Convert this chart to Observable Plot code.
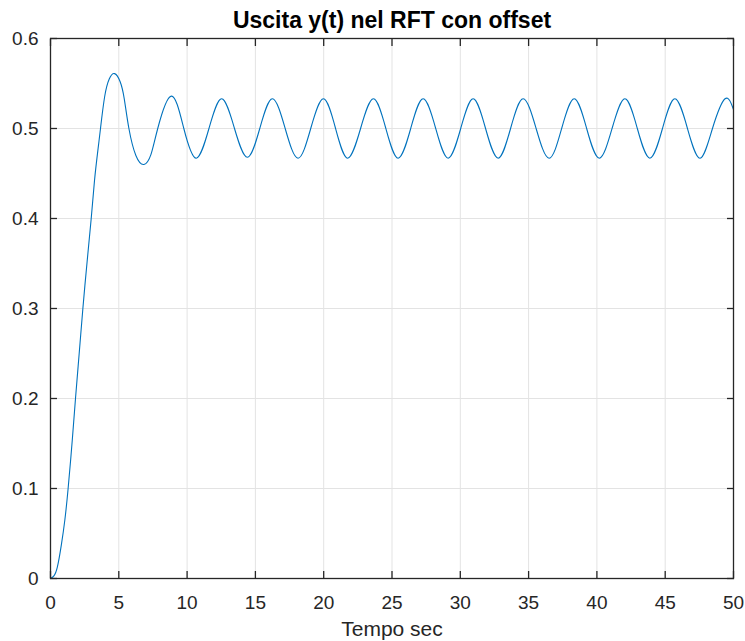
<!DOCTYPE html>
<html>
<head>
<meta charset="utf-8">
<script src="https://cdn.jsdelivr.net/npm/d3@7"></script>
<script src="https://cdn.jsdelivr.net/npm/@observablehq/plot@0.6"></script>
<style>
  body { margin: 0; background: #fff; }
  svg { font-family: "Liberation Sans", Arial, sans-serif; }
</style>
</head>
<body>
<div id="chart"></div>
<script>
const title = "Uscita y(t) nel RFT con offset";
const xLabel = "Tempo sec";
const xTicks = [0, 5, 10, 15, 20, 25, 30, 35, 40, 45, 50];
const yTicks = [0, 0.1, 0.2, 0.3, 0.4, 0.5, 0.6];

const tValues = [0, 0.25, 0.5, 0.8, 1.05, 1.29, 1.59, 1.83, 2.1, 2.37, 2.68, 2.98, 3.22, 3.47, 3.66, 3.96, 4.3, 4.69, 5.1, 5.4, 5.74, 6.25, 6.84, 7.35, 7.85,
  8.84, 9.76, 10.67, 11.6, 12.53, 13.47, 14.41, 15.32, 16.24, 17.18, 18.12, 19.05, 19.98, 20.87, 21.76, 22.7, 23.64, 24.55, 25.45, 26.37, 27.28,
  28.2, 29.11, 30.03, 30.94, 31.85, 32.77, 33.68, 34.6, 35.55, 36.5, 37.42, 38.34, 39.25, 40.17, 41.11, 42.05, 42.96, 43.88, 44.8, 45.71,
  46.63, 47.55, 48.46, 49.38, 50];
const yValues = [0, 0.003, 0.0126, 0.038, 0.065, 0.1, 0.153, 0.2, 0.25, 0.3, 0.352, 0.4, 0.442, 0.476, 0.5, 0.535, 0.555, 0.561, 0.552, 0.533, 0.5, 0.47, 0.46, 0.471, 0.5,
  0.536, 0.5, 0.467, 0.5, 0.533, 0.5, 0.468, 0.5, 0.533, 0.5, 0.467, 0.5, 0.533, 0.5, 0.467, 0.5, 0.533, 0.5, 0.467, 0.5, 0.533,
  0.5, 0.467, 0.5, 0.533, 0.5, 0.467, 0.5, 0.533, 0.5, 0.467, 0.5, 0.533, 0.5, 0.467, 0.5, 0.533, 0.5, 0.467, 0.5, 0.533,
  0.5, 0.467, 0.5, 0.533, 0.521];

const data = tValues.map((t, i) => ({t, y: yValues[i]}));

const axisColor = "#262626";
const gridColor = "#e3e3e3";

const chart = Plot.plot({
  width: 745,
  height: 641,
  marginLeft: 50,
  marginRight: 12,
  marginTop: 38,
  marginBottom: 63,
  style: {fontFamily: "'Liberation Sans', Arial, sans-serif", background: "#fff"},
  x: {domain: [0, 50], label: null},
  y: {domain: [0, 0.6], label: null},
  marks: [
    Plot.gridX(xTicks.slice(1, -1), {stroke: gridColor, strokeOpacity: 1, strokeWidth: 1}),
    Plot.gridY(yTicks.slice(1, -1), {stroke: gridColor, strokeOpacity: 1, strokeWidth: 1}),
    Plot.line(data, {x: "t", y: "y", stroke: "#0072BD", strokeWidth: 1.1, curve: "natural"}),
    Plot.frame({stroke: axisColor, strokeWidth: 1.3}),
    Plot.axisX(xTicks, {anchor: "bottom", tickSize: -7, tickPadding: 24, stroke: axisColor, strokeWidth: 1.3, fill: axisColor, fontSize: 19, tickFormat: d => String(d), label: null}),
    Plot.axisX(xTicks, {anchor: "top", tickSize: -7, stroke: axisColor, strokeWidth: 1.3, tickFormat: () => "", label: null}),
    Plot.axisY(yTicks, {anchor: "left", tickSize: -7, tickPadding: 19, stroke: axisColor, strokeWidth: 1.3, fill: axisColor, fontSize: 19, tickFormat: d => String(d), label: null}),
    Plot.axisY(yTicks, {anchor: "right", tickSize: -7, stroke: axisColor, strokeWidth: 1.3, tickFormat: () => "", label: null}),
    Plot.text([title], {frameAnchor: "top", lineAnchor: "middle", dy: -18, fontSize: 23, fontWeight: "bold", fill: "#000"}),
    Plot.text([xLabel], {frameAnchor: "bottom", lineAnchor: "middle", dy: 50.5, fontSize: 21, fill: axisColor})
  ]
});
document.getElementById("chart").appendChild(chart);
</script>
</body>
</html>
